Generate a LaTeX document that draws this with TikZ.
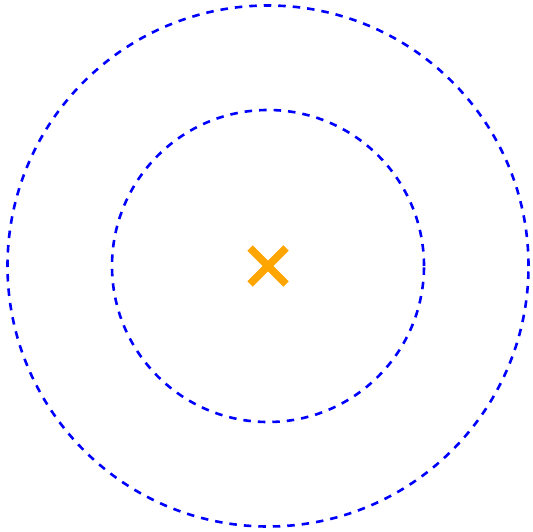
\documentclass[tikz,border=0pt]{standalone}
\usetikzlibrary{calc}
\definecolor{xorange}{RGB}{255,165,0}
\tikzset{ring/.style={draw=blue, dashed, dash pattern=on 7.5pt off 7pt, line width=2.6pt},
  crossline/.style={draw=xorange, line width=7.5pt}}
\begin{document}
\begin{tikzpicture}[x=1pt,y=1pt]
\useasboundingbox (0,0) rectangle (533,531);
\coordinate (c) at (268,265);
\draw[ring] (c) circle[radius=260.5];
\draw[ring] (c) circle[radius=156];
\draw[crossline] ($(c)+(-18,-18)$) -- ($(c)+(18,18)$);
\draw[crossline] ($(c)+(-18,18)$) -- ($(c)+(18,-18)$);
\end{tikzpicture}
\end{document}
